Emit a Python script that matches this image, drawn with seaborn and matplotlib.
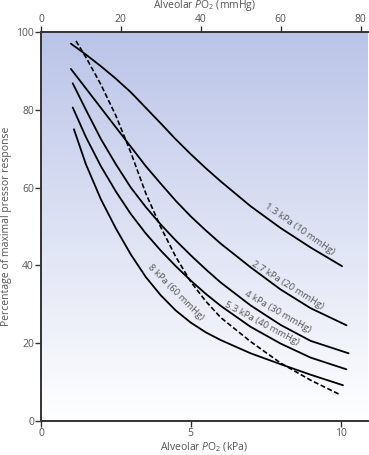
import numpy as np
import pandas as pd
import seaborn as sns
from matplotlib import pyplot as plt

# alveolar PO2 (kPa) vs percentage of maximal pressor response
x_13 = [1.0, 1.5, 2.0, 2.5, 3.0, 3.5, 4.0, 4.5, 5.0, 5.5, 6.0, 7.0, 8.0, 9.0, 10.05]
y_13 = [97.0, 94.2, 91.2, 88.0, 84.5, 80.5, 76.5, 72.4, 68.6, 65.0, 61.6, 55.2, 49.6, 44.6, 39.8]

x_27 = [1.0, 1.5, 2.0, 2.5, 3.0, 3.5, 4.0, 4.5, 5.0, 5.5, 6.0, 7.0, 8.0, 9.0, 10.2]
y_27 = [90.5, 85.5, 80.5, 75.5, 70.5, 65.5, 61.0, 56.6, 52.6, 49.0, 45.6, 39.5, 33.8, 29.0, 24.6]

x_4 = [1.06, 1.5, 2.0, 2.5, 3.0, 3.5, 4.0, 4.5, 5.0, 5.5, 6.0, 7.0, 8.0, 9.0, 10.27]
y_4 = [86.8, 80.0, 72.5, 66.0, 60.0, 55.0, 50.5, 46.4, 42.6, 39.0, 35.6, 29.7, 24.7, 20.6, 17.4]

x_53 = [1.06, 1.5, 2.0, 2.5, 3.0, 3.5, 4.0, 4.5, 5.0, 5.5, 6.0, 7.0, 8.0, 9.0, 10.19]
y_53 = [80.6, 73.0, 65.5, 59.0, 53.2, 48.2, 43.8, 39.8, 36.1, 32.7, 29.6, 24.2, 19.9, 16.3, 13.3]

x_8 = [1.1, 1.5, 2.0, 2.5, 3.0, 3.5, 4.0, 4.5, 5.0, 5.5, 6.0, 7.0, 8.0, 9.0, 10.08]
y_8 = [75.0, 66.0, 57.0, 49.5, 42.8, 37.0, 32.3, 28.4, 25.3, 22.8, 20.8, 17.4, 14.6, 11.9, 9.2]

# dashed curve
x_dash = [1.17, 1.5, 2.0, 2.5, 3.0, 3.5, 4.0, 4.5, 5.0, 5.5, 6.0, 7.0, 8.0, 9.0, 10.0]
y_dash = [97.7, 93.5, 86.5, 78.5, 69.0, 58.5, 49.8, 42.2, 35.8, 30.8, 26.6, 20.4, 14.9, 10.5, 6.7]

curve_labels = ['1.3 kPa (10 mmHg)', '2.7 kPa (20 mmHg)', '4 kPa (30 mmHg)',
                '5.3 kPa (40 mmHg)', '8 kPa (60 mmHg)']

sns.set_style("white")
plt.rcParams['font.family'] = ['Open Sans', 'DejaVu Sans']
plt.rcParams['mathtext.fontset'] = 'custom'
plt.rcParams['mathtext.rm'] = 'Open Sans'
plt.rcParams['mathtext.it'] = 'Open Sans:italic'

grey = '#555555'
fig = plt.figure(figsize=(3.69, 4.55), dpi=100)
ax = fig.add_axes([0.111, 0.0747, 0.885, 0.855])

# blue-to-white background
grad = np.linspace(1, 0, 256).reshape(-1, 1)
top_col = np.array([186, 196, 232]) / 255
img = grad[..., None] * top_col + (1 - grad[..., None]) * np.ones(3)
ax.imshow(img, extent=[0, 10.9, 0, 100], aspect='auto', zorder=0)

curves = [(x_13, y_13), (x_27, y_27), (x_4, y_4), (x_53, y_53), (x_8, y_8)]
for xs, ys in curves:
    df = pd.DataFrame({'kPa': xs, 'pct': ys})
    sns.lineplot(data=df, x='kPa', y='pct', ax=ax, color='black', lw=1.3, sort=False)

df_d = pd.DataFrame({'kPa': x_dash, 'pct': y_dash})
sns.lineplot(data=df_d, x='kPa', y='pct', ax=ax, color='black', lw=1.2, sort=False)
ax.lines[-1].set_linestyle((0, (3, 1.5)))

# labels along the curves
lab_pos = [(8.63, 49.3, -35), (8.23, 35.0, -32), (7.9, 28.0, -30),
           (7.37, 25.1, -28), (4.5, 33.0, -45)]
for lab, (lx, ly, rot) in zip(curve_labels, lab_pos):
    ax.text(lx, ly, lab, rotation=rot, color=grey, fontsize=6.8,
            ha='center', va='center', rotation_mode='anchor')

ax.set_xlim(0, 10.9)
ax.set_ylim(0, 100)
ax.set_xticks([0, 5, 10])
ax.set_yticks([0, 20, 40, 60, 80, 100])
ax.set_xlabel('Alveolar $\\it{P}$O$_2$ (kPa)', fontsize=7.5, color=grey, labelpad=1)
ax.set_ylabel('Percentage of maximal pressor response', fontsize=7.5, color=grey, labelpad=3)
ax.tick_params(axis='both', direction='out', length=4, width=1, color='#333333',
               labelsize=7.5, labelcolor=grey, pad=1)
ax.tick_params(axis='both', which='both', bottom=True, left=True)

for side in ['left', 'bottom', 'top']:
    ax.spines[side].set_color('#333333')
    ax.spines[side].set_linewidth(1.4)
ax.spines['right'].set_visible(False)

top = ax.secondary_xaxis('top', functions=(lambda v: v * 7.50062, lambda v: v / 7.50062))
top.set_xticks([0, 20, 40, 60, 80])
top.tick_params(direction='out', length=4, width=1, color='#333333',
                labelsize=7.5, labelcolor=grey, pad=1)
top.set_xlabel('Alveolar $\\it{P}$O$_2$ (mmHg)', fontsize=7.5, color=grey, labelpad=4)
top.spines['top'].set_visible(False)

fig.savefig('out.png', dpi=100)
